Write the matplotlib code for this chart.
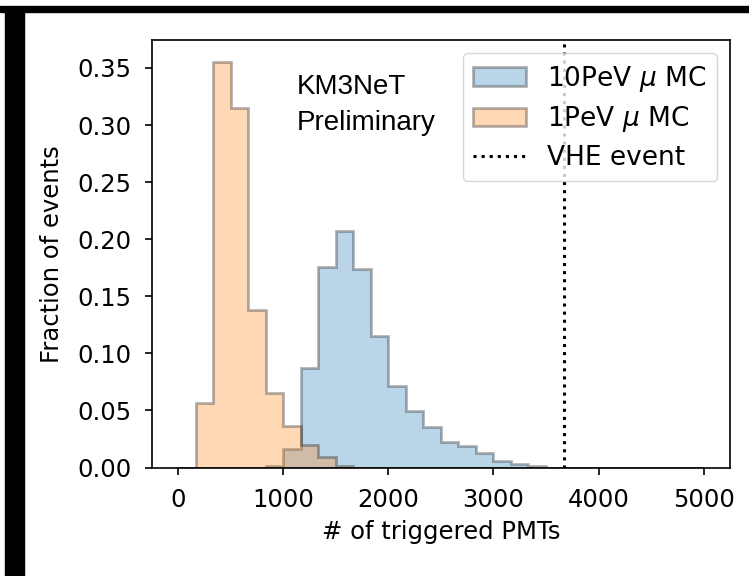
import numpy as np
import matplotlib
matplotlib.use("Agg")
import matplotlib.pyplot as plt
from matplotlib.patches import Rectangle

# ---- data ----
bin_edges = np.linspace(0, 5000, 31)
frac_10pev = [0, 0, 0, 0, 0, 0.001, 0.0164, 0.0875, 0.1757, 0.207, 0.174,
              0.1149, 0.0716, 0.0497, 0.0354, 0.0225, 0.0184, 0.0129, 0.0061,
              0.0035, 0.001, 0, 0, 0, 0, 0, 0, 0, 0, 0]
frac_1pev = [0, 0.0564, 0.3553, 0.3146, 0.138, 0.0652, 0.0363, 0.0193, 0.0096,
             0.001, 0, 0, 0, 0, 0, 0, 0, 0, 0, 0, 0, 0, 0, 0, 0, 0, 0, 0, 0, 0]
vhe_event = 3670
labels = ["10PeV $\\mu$ MC", "1PeV $\\mu$ MC", "VHE event"]
xlabel = "# of triggered PMTs"
ylabel = "Fraction of events"
watermark = "KM3NeT\nPreliminary"

W, H = 749, 576
fig = plt.figure(figsize=(W / 100, H / 100), dpi=100)
ax = fig.add_axes([151.7 / W, (H - 467.5) / H, (730 - 151.7) / W, (467.5 - 40) / H])

centers = 0.5 * (bin_edges[:-1] + bin_edges[1:])
ax.hist(centers, bins=bin_edges, weights=frac_10pev, histtype="stepfilled",
        color="C0", edgecolor="k", alpha=0.3, lw=2, label=labels[0])
ax.hist(centers, bins=bin_edges, weights=frac_1pev, histtype="stepfilled",
        color="C1", edgecolor="k", alpha=0.3, lw=2, label=labels[1])
ax.axvline(vhe_event, color="k", ls=":", lw=2.2, label=labels[2])

ax.set_xlim(-250, 5250)
ax.set_ylim(0, 0.3745)
ax.set_xticks([0, 1000, 2000, 3000, 4000, 5000])
ax.set_yticks(np.arange(0, 0.351, 0.05))
ax.yaxis.set_major_formatter(matplotlib.ticker.FormatStrFormatter("%.2f"))

fs = 17.5
ax.tick_params(labelsize=fs, length=5.3, width=1.2, pad=9.5)
for s in ax.spines.values():
    s.set_linewidth(1.2)
ax.set_xlabel(xlabel, fontsize=fs, labelpad=6)
ax.set_ylabel(ylabel, fontsize=fs, labelpad=9)

ax.text(0.2507, 0.92, watermark, transform=ax.transAxes, ha="left", va="top",
        fontsize=20, family="Liberation Sans", linespacing=1.5)

ax.legend(loc="upper right", fontsize=19, labelspacing=0.4, borderaxespad=0.5)

# screenshot border
fig.patches.append(Rectangle((0, 1 - 12 / H), 1, 6 / H, transform=fig.transFigure,
                             color="k", zorder=10))
fig.patches.append(Rectangle((5 / W, 0), 19 / W, 1 - 12 / H, transform=fig.transFigure,
                             color="k", zorder=10))

fig.savefig("out.png", dpi=100)
